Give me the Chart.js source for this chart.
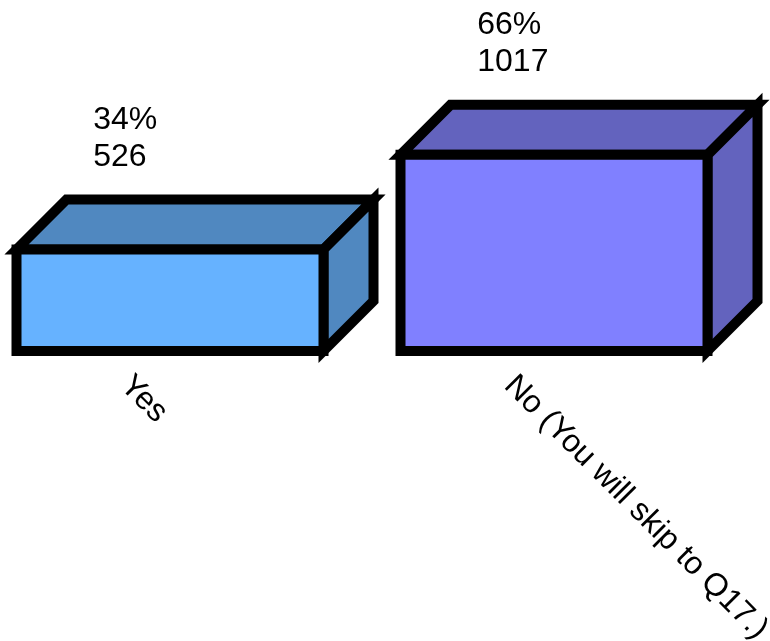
<!DOCTYPE html>
<html>
<head>
<meta charset="utf-8">
<script src="https://cdn.jsdelivr.net/npm/chart.js"></script>
<style>
  html, body { margin: 0; padding: 0; background: #fff; }
  #wrap { width: 770px; height: 641px; }
</style>
</head>
<body>
<div id="wrap"><canvas id="chartYesNo"></canvas></div>
<script>
// data
var categories = ['Yes', 'No (You will skip to Q17.)'];
var counts = [526, 1017];
var percents = ['34%', '66%'];
var frontColors = ['#66b2ff', '#8080ff'];
var sideColors = ['#5088c0', '#6363be'];

var DEPTH = 50;
var FONT = '32px "Liberation Sans", Arial, sans-serif';

// 3d box: top + side faces before the bars, outline of front after
var boxPlugin = {
  id: 'box3d',
  beforeDatasetsDraw: function (chart) {
    var ctx = chart.ctx;
    var meta = chart.getDatasetMeta(0);
    ctx.save();
    ctx.lineWidth = 10;
    ctx.lineJoin = 'miter';
    ctx.strokeStyle = '#000';
    meta.data.forEach(function (bar, i) {
      var L = bar.x - bar.width / 2, R = bar.x + bar.width / 2;
      var T = bar.y, B = bar.base, d = DEPTH;
      ctx.fillStyle = sideColors[i];
      // top
      ctx.beginPath();
      ctx.moveTo(L, T);
      ctx.lineTo(L + d, T - d);
      ctx.lineTo(R + d, T - d);
      ctx.lineTo(R, T);
      ctx.closePath();
      ctx.fill();
      ctx.stroke();
      // side
      ctx.beginPath();
      ctx.moveTo(R, T);
      ctx.lineTo(R + d, T - d);
      ctx.lineTo(R + d, B - d);
      ctx.lineTo(R, B);
      ctx.closePath();
      ctx.fill();
      ctx.stroke();
    });
    ctx.restore();
  },
  afterDatasetsDraw: function (chart) {
    var ctx = chart.ctx;
    var meta = chart.getDatasetMeta(0);
    ctx.save();
    ctx.lineWidth = 10;
    ctx.lineJoin = 'miter';
    ctx.strokeStyle = '#000';
    meta.data.forEach(function (bar, i) {
      var L = bar.x - bar.width / 2, R = bar.x + bar.width / 2;
      ctx.beginPath();
      ctx.rect(L, bar.y, R - L, bar.base - bar.y);
      ctx.stroke();

      // value labels above the box
      ctx.fillStyle = '#000';
      ctx.font = FONT;
      ctx.textAlign = 'left';
      ctx.textBaseline = 'alphabetic';
      var tx = bar.x - bar.width / 4;
      var ty = bar.y - DEPTH - 34;
      ctx.fillText(String(counts[i]), tx, ty);
      ctx.fillText(percents[i], tx, ty - 37);

      // category label, slanted down to the right
      ctx.save();
      ctx.translate(bar.x - 51, bar.base + 36);
      ctx.rotate(Math.PI / 4);
      ctx.fillText(categories[i], 0, 0);
      ctx.restore();
    });
    ctx.restore();
  }
};

var ctx = document.getElementById('chartYesNo').getContext('2d');
var chart = new Chart(ctx, {
  type: 'bar',
  data: {
    labels: categories,
    datasets: [{
      data: counts,
      backgroundColor: frontColors,
      borderWidth: 0,
      barThickness: 307,
      clip: false
    }]
  },
  options: {
    responsive: true,
    maintainAspectRatio: false,
    animation: false,
    layout: { padding: { left: 170, right: 216, top: 0, bottom: 290 } },
    plugins: { legend: { display: false }, tooltip: { enabled: false } },
    scales: {
      x: { display: false, offset: false, grid: { display: false } },
      y: { display: false, min: 0, max: 1820 }
    }
  },
  plugins: [boxPlugin]
});
</script>
</body>
</html>
